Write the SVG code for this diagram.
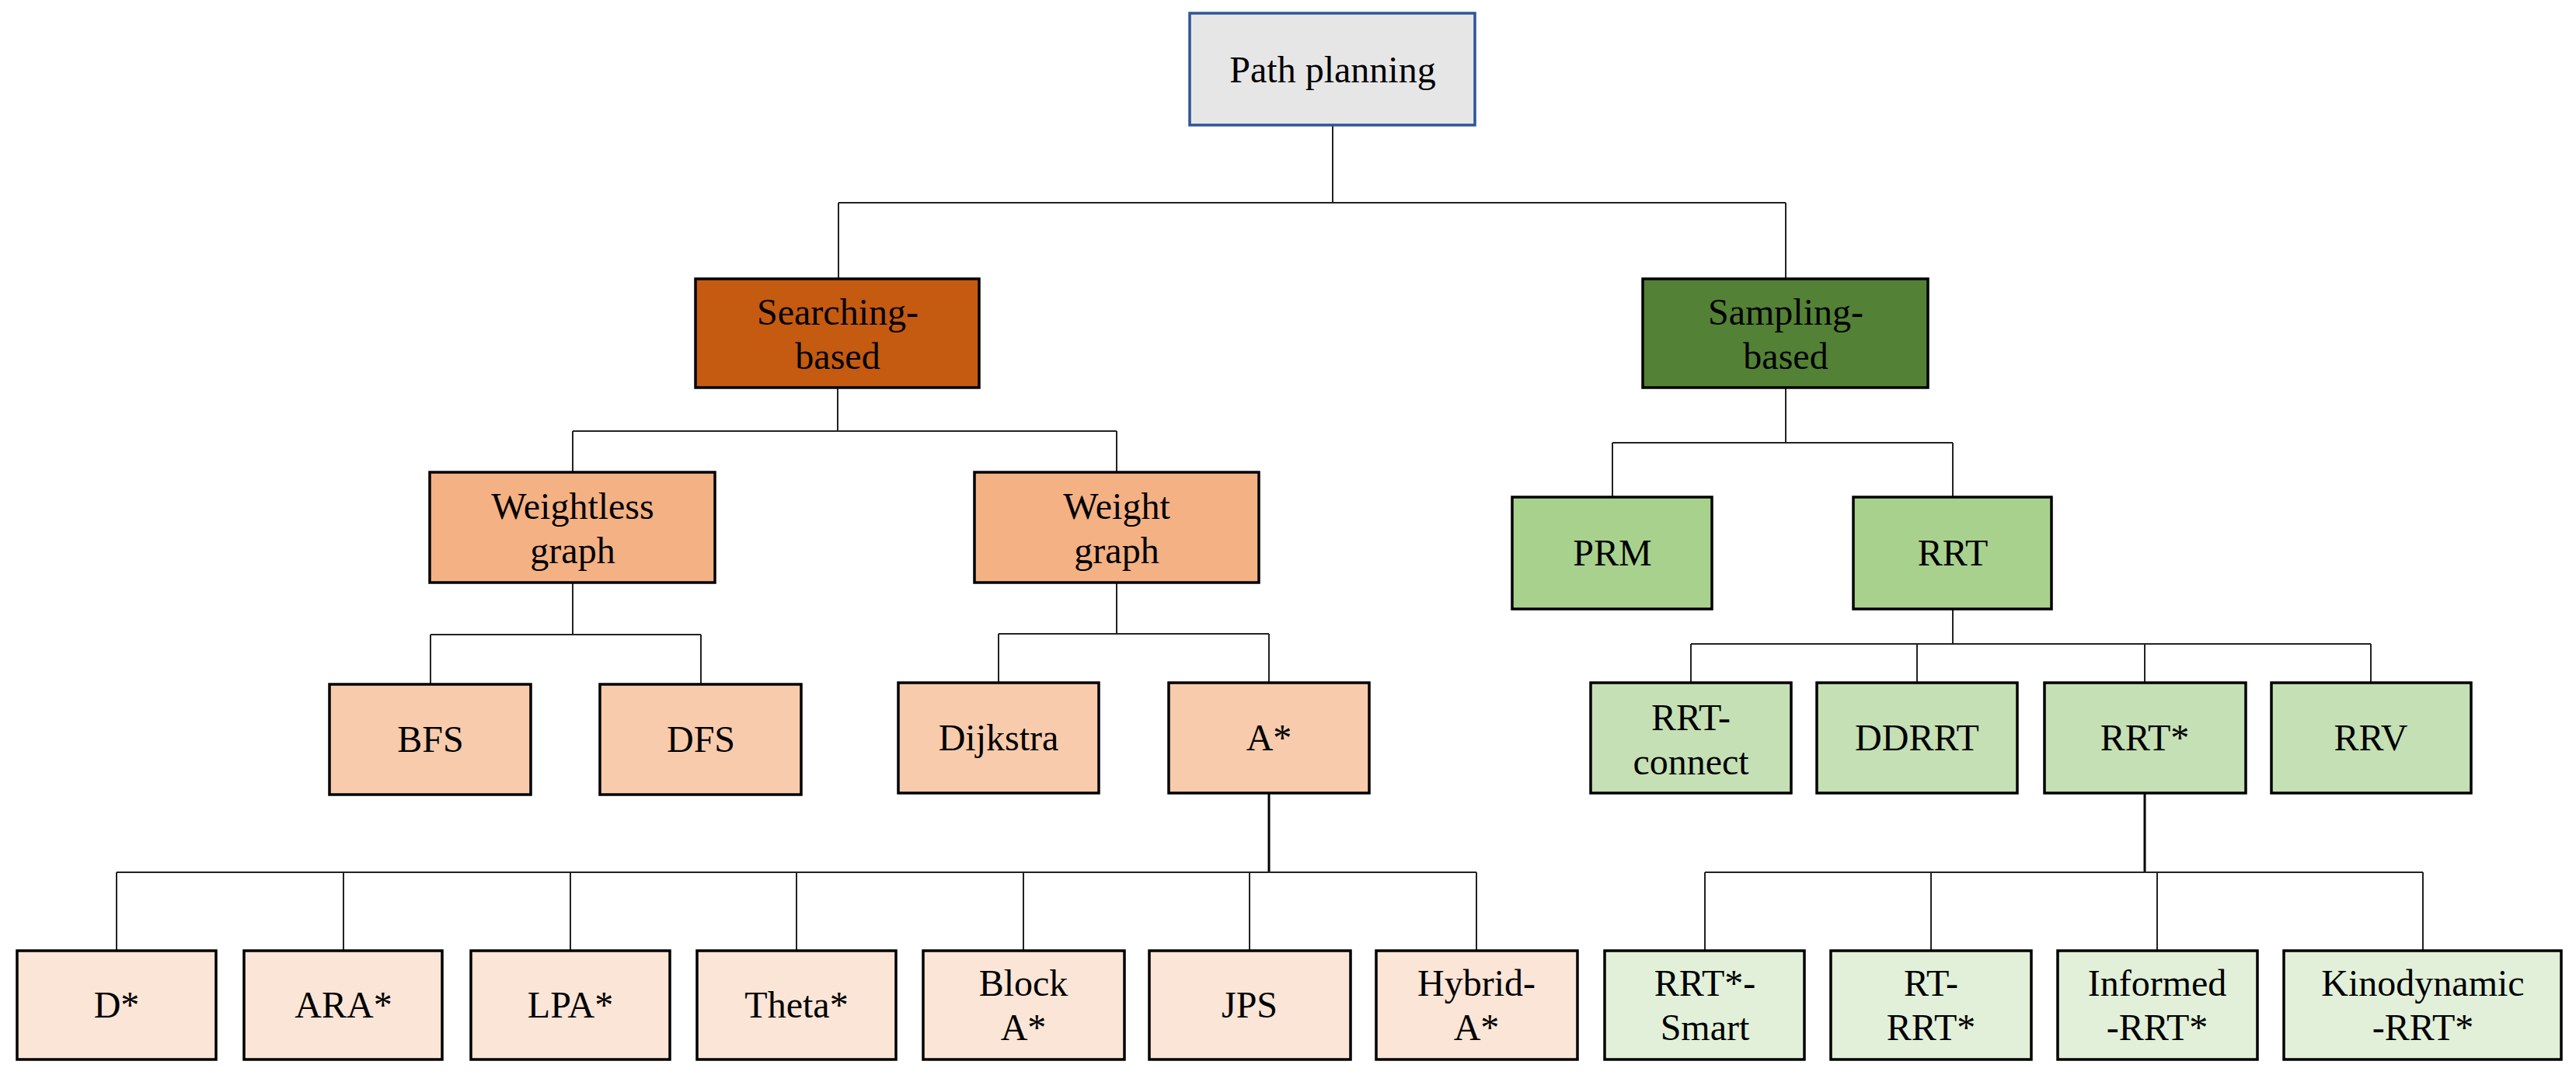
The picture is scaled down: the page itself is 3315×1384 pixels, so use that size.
<svg xmlns="http://www.w3.org/2000/svg" width="3315" height="1384" viewBox="0 0 3315 1384">
<style>
.n{stroke:#000;stroke-width:3.5}
text{font-family:"Liberation Serif","Times New Roman",serif;font-size:48px;text-anchor:middle;fill:#000}
.c{fill:none;stroke:#222;stroke-width:2}
.t{fill:none;stroke:#000;stroke-width:3}
.o1{fill:#C55A11}.o2{fill:#F4B183}.o3{fill:#F8CBAD}.o4{fill:#FBE5D6}
.g1{fill:#538135}.g2{fill:#A9D18E}.g3{fill:#C5E0B4}.g4{fill:#E2F0D9}
</style>
<rect width="3315" height="1384" fill="#fff"/>
<g id="connectors">
<path class="c" d="M1715 161V261M1079 261H2298M1079 261V359M2298 261V359"/>
<path class="c" d="M1078 499V555M737 555H1437M737 555V608M1437 555V608"/>
<path class="c" d="M2298 499V570M2075 570H2513M2075 570V640M2513 570V640"/>
<path class="c" d="M737 750V817M554 817H902M554 817V881M902 817V881"/>
<path class="c" d="M1437 750V816M1285 816H1633M1285 816V879M1633 816V879"/>
<path class="t" d="M1633 1021V1123"/>
<path class="c" d="M150 1123H1900M150 1123V1224M442 1123V1224M734 1123V1224M1025 1123V1224M1317 1123V1224M1608 1123V1224M1900 1123V1224"/>
<path class="c" d="M2513 784V829M2176 829H3051M2176 829V879M2467 829V879M2760 829V879M3051 829V879"/>
<path class="t" d="M2760 1021V1123"/>
<path class="c" d="M2194 1123H3118M2194 1123V1224M2485 1123V1224M2776 1123V1224M3118 1123V1224"/>
</g>
<g id="path-planning"><rect x="1531" y="17" width="367" height="144" fill="#E7E6E6" stroke="#2F5597" stroke-width="3.5"/><text x="1715" y="106">Path planning</text></g>
<g id="searching"><rect class="n o1" x="895" y="359" width="365" height="140"/><text x="1078" y="418">Searching-</text><text x="1078" y="475">based</text></g>
<g id="sampling"><rect class="n g1" x="2114" y="359" width="367" height="140"/><text x="2298" y="418">Sampling-</text><text x="2298" y="475">based</text></g>
<g id="weightless"><rect class="n o2" x="553" y="608" width="367" height="142"/><text x="737" y="668">Weightless</text><text x="737" y="725">graph</text></g>
<g id="weight"><rect class="n o2" x="1254" y="608" width="366" height="142"/><text x="1437" y="668">Weight</text><text x="1437" y="725">graph</text></g>
<g id="prm"><rect class="n g2" x="1946" y="640" width="257" height="144"/><text x="2075" y="728">PRM</text></g>
<g id="rrt"><rect class="n g2" x="2385" y="640" width="255" height="144"/><text x="2513" y="728">RRT</text></g>
<g id="bfs"><rect class="n o3" x="424" y="881" width="259" height="142"/><text x="554" y="968">BFS</text></g>
<g id="dfs"><rect class="n o3" x="772" y="881" width="259" height="142"/><text x="902" y="968">DFS</text></g>
<g id="dijkstra"><rect class="n o3" x="1156" y="879" width="258" height="142"/><text x="1285" y="966">Dijkstra</text></g>
<g id="astar"><rect class="n o3" x="1504" y="879" width="258" height="142"/><text x="1633" y="966">A*</text></g>
<g id="rrt-connect"><rect class="n g3" x="2047" y="879" width="258" height="142"/><text x="2176" y="940">RRT-</text><text x="2176" y="997">connect</text></g>
<g id="ddrrt"><rect class="n g3" x="2338" y="879" width="258" height="142"/><text x="2467" y="966">DDRRT</text></g>
<g id="rrtstar"><rect class="n g3" x="2631" y="879" width="259" height="142"/><text x="2760" y="966">RRT*</text></g>
<g id="rrv"><rect class="n g3" x="2923" y="879" width="257" height="142"/><text x="3051" y="966">RRV</text></g>
<g id="dstar"><rect class="n o4" x="22" y="1224" width="256" height="140"/><text x="150" y="1310">D*</text></g>
<g id="ara"><rect class="n o4" x="314" y="1224" width="255" height="140"/><text x="442" y="1310">ARA*</text></g>
<g id="lpa"><rect class="n o4" x="606" y="1224" width="256" height="140"/><text x="734" y="1310">LPA*</text></g>
<g id="theta"><rect class="n o4" x="897" y="1224" width="256" height="140"/><text x="1025" y="1310">Theta*</text></g>
<g id="block"><rect class="n o4" x="1188" y="1224" width="259" height="140"/><text x="1317" y="1282">Block</text><text x="1317" y="1339">A*</text></g>
<g id="jps"><rect class="n o4" x="1479" y="1224" width="259" height="140"/><text x="1608" y="1310">JPS</text></g>
<g id="hybrid"><rect class="n o4" x="1771" y="1224" width="259" height="140"/><text x="1900" y="1282">Hybrid-</text><text x="1900" y="1339">A*</text></g>
<g id="rrt-smart"><rect class="n g4" x="2065" y="1224" width="257" height="140"/><text x="2194" y="1282">RRT*-</text><text x="2194" y="1339">Smart</text></g>
<g id="rt-rrt"><rect class="n g4" x="2356" y="1224" width="258" height="140"/><text x="2485" y="1282">RT-</text><text x="2485" y="1339">RRT*</text></g>
<g id="informed"><rect class="n g4" x="2648" y="1224" width="257" height="140"/><text x="2776" y="1282">Informed</text><text x="2776" y="1339">-RRT*</text></g>
<g id="kinodynamic"><rect class="n g4" x="2939" y="1224" width="357" height="140"/><text x="3118" y="1282">Kinodynamic</text><text x="3118" y="1339">-RRT*</text></g>
</svg>
